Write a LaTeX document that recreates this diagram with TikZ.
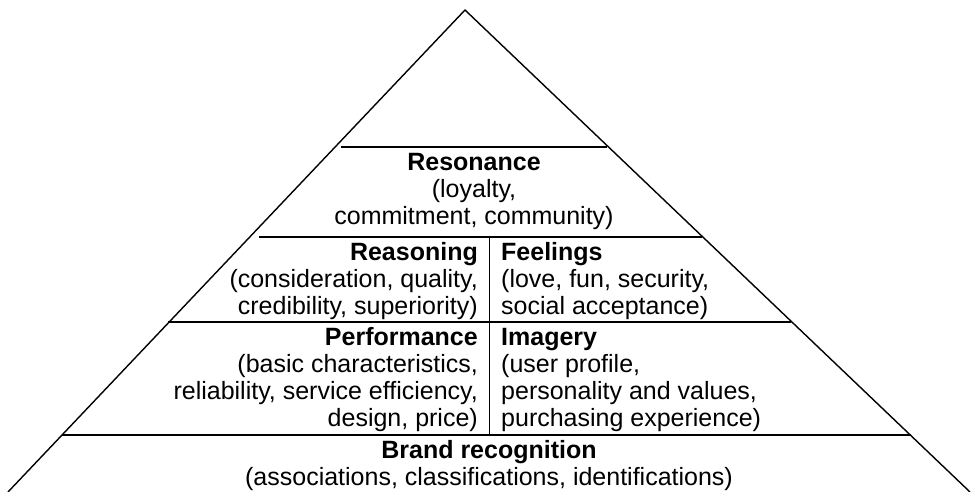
\documentclass[tikz,border=0pt]{standalone}
\usepackage{fontspec}
\setmainfont{Liberation Sans}
\usetikzlibrary{positioning}

\begin{document}
\begin{tikzpicture}[x=1pt, y=-1pt,
    outline/.style={line width=1.4pt},
    tier/.style={line width=1.4pt},
    txt/.style={inner sep=0pt, font=\fontsize{25}{27}\selectfont}]
    \useasboundingbox (0,0) rectangle (974,492);
    % pyramid outline
    \coordinate (apex) at (465,10);
    \coordinate (bl) at (8,492);
    \coordinate (br) at (970,492);
    \draw[outline] (bl) -- (apex) -- (br);
    % tier lines
    \coordinate (t1l) at (341,147);  \coordinate (t1r) at (607,147);
    \coordinate (t2l) at (259,237);  \coordinate (t2r) at (702,237);
    \coordinate (t3l) at (168,322);  \coordinate (t3r) at (791,322);
    \coordinate (t4l) at (62,435);   \coordinate (t4r) at (911,435);
    \draw[tier] (t1l) -- (t1r);
    \draw[tier] (t2l) -- (t2r);
    \draw[tier] (t3l) -- (t3r);
    \draw[tier] (t4l) -- (t4r);
    % divider
    \coordinate (dtop) at (489.5,237);
    \coordinate (dbot) at (489.5,435);
    \draw[tier] (dtop) -- (dbot);
    % texts (anchored at the baseline of their last line)
    \node[txt, align=center, anchor=base] (resonance) at (474,224)
        {\textbf{Resonance}\\(loyalty,\\commitment, community)};
    \node[txt, align=right, anchor=base east] (reasoning) at (478,314)
        {\textbf{Reasoning}\\(consideration, quality,\\credibility, superiority)};
    \node[txt, align=left, anchor=base west] (feelings) at (501,314)
        {\textbf{Feelings}\\(love, fun, security,\\social acceptance)};
    \node[txt, align=right, anchor=base east] (performance) at (478,426)
        {\textbf{Performance}\\(basic characteristics,\\reliability, service efficiency,\\design, price)};
    \node[txt, align=left, anchor=base west] (imagery) at (501,426)
        {\textbf{Imagery}\\(user profile,\\personality and values,\\purchasing experience)};
    \node[txt, align=center, anchor=base] (brand) at (489,485)
        {\textbf{Brand recognition}\\(associations, classifications, identifications)};
\end{tikzpicture}
\end{document}
